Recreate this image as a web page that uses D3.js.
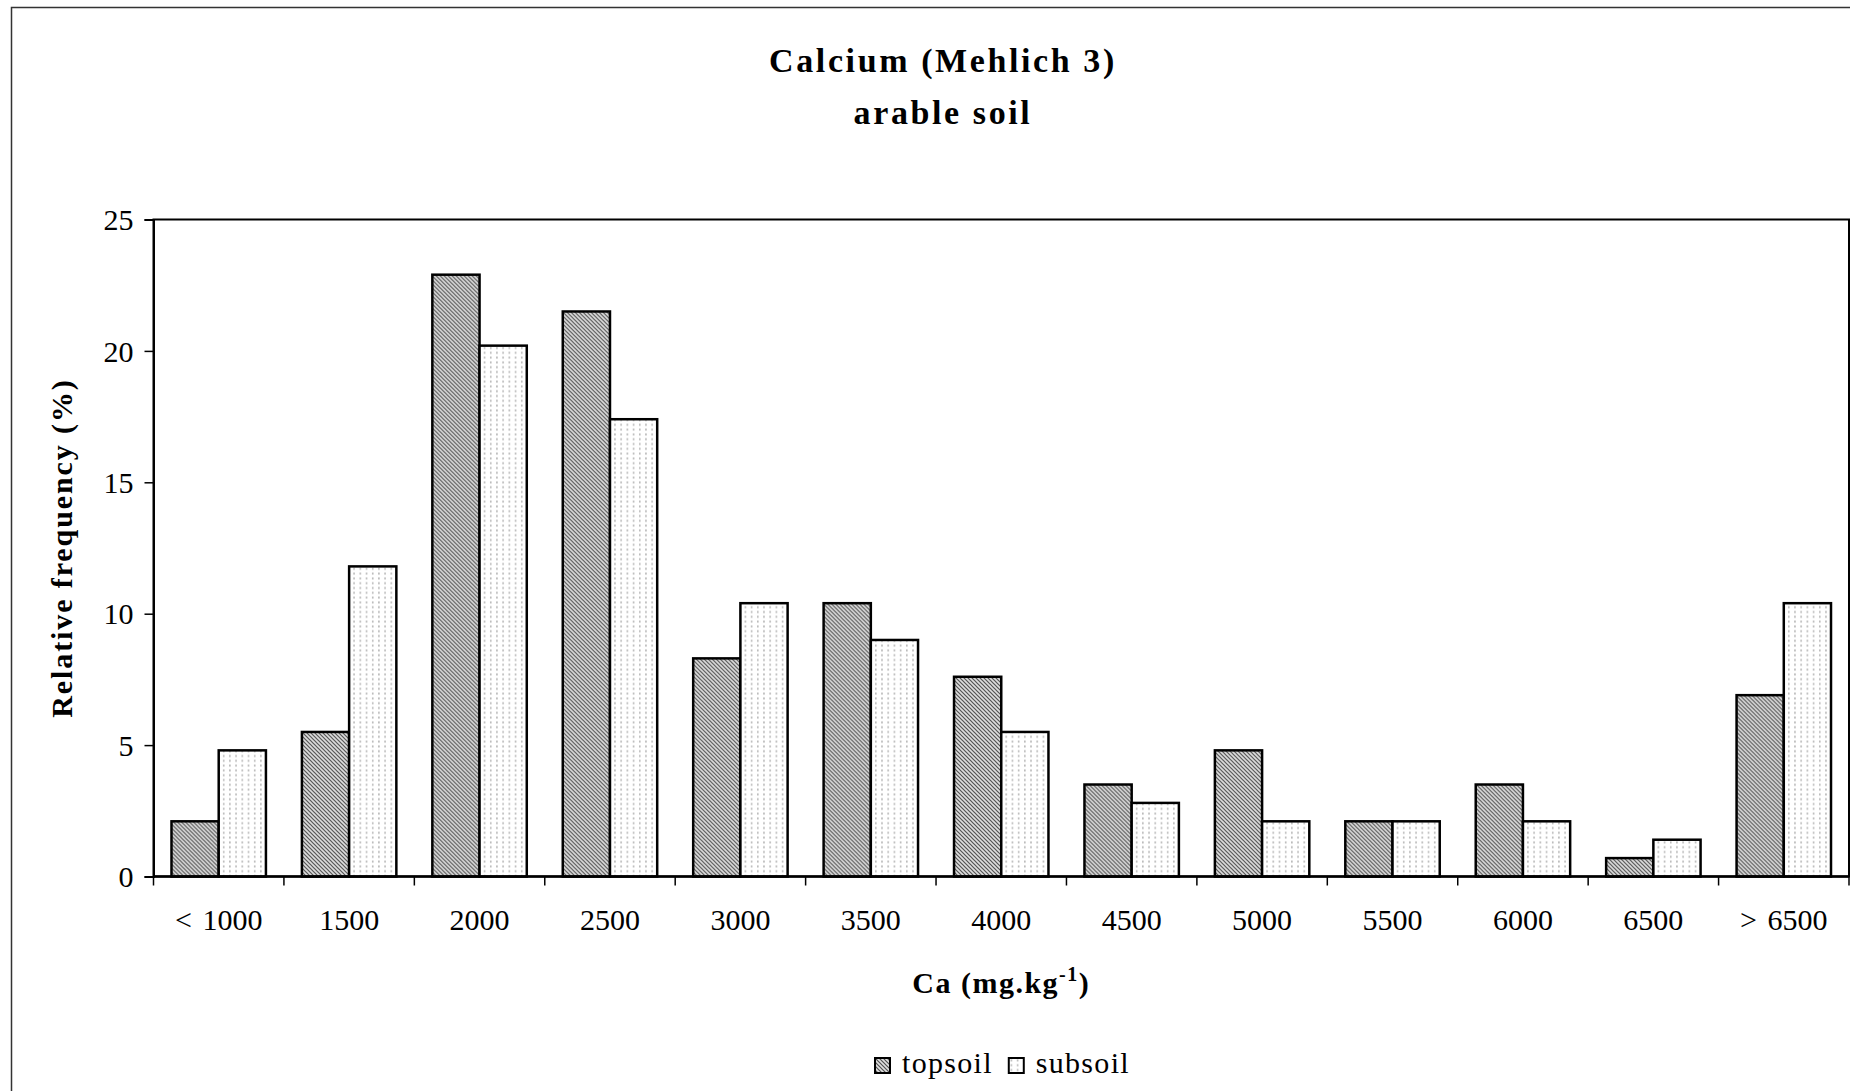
<!DOCTYPE html>
<html>
<head>
<meta charset="utf-8">
<script src="https://cdn.jsdelivr.net/npm/d3@7/dist/d3.min.js"></script>
<style>
  html, body { margin: 0; padding: 0; background: #fff; }
  svg { display: block; }
  text { font-family: "Liberation Serif", "Times New Roman", serif; fill: #000; }
</style>
</head>
<body>
<svg id="chart" width="1850" height="1091"></svg>
<script>
// Ca classes (mg/kg) and relative frequency (%) per soil layer
const categories = ["< 1000", "1500", "2000", "2500", "3000", "3500", "4000",
                    "4500", "5000", "5500", "6000", "6500", "> 6500"];
const topsoil = [2.1, 5.5, 22.9, 21.5, 8.3, 10.4, 7.6, 3.5, 4.8, 2.1, 3.5, 0.7, 6.9];
const subsoil = [4.8, 11.8, 20.2, 17.4, 10.4, 9.0, 5.5, 2.8, 2.1, 2.1, 2.1, 1.4, 10.4];
const seriesNames = ["topsoil", "subsoil"];
const yTicks = [0, 5, 10, 15, 20, 25];

const svg = d3.select("#chart");
const W = 1850, H = 1091;
const plot = { left: 153.5, right: 1849, top: 219.5, bottom: 876.5 };

// fill patterns
const defs = svg.append("defs");
const hatch = defs.append("pattern")
  .attr("id", "hatch").attr("patternUnits", "userSpaceOnUse")
  .attr("width", 4).attr("height", 4);
hatch.append("rect").attr("width", 4).attr("height", 4).attr("fill", "#e0e0e0");
hatch.append("path")
  .attr("d", "M-1,-1 L5,5 M-1,3 L1,5 M3,-1 L5,1")
  .attr("stroke", "#505050").attr("stroke-width", 1.2);

const dots = defs.append("pattern")
  .attr("id", "dots").attr("patternUnits", "userSpaceOnUse")
  .attr("width", 6.2).attr("height", 4.8);
dots.append("rect").attr("width", 6.2).attr("height", 4.8).attr("fill", "#fff");
dots.append("rect").attr("x", 2).attr("y", 1.4).attr("width", 1.2).attr("height", 2)
  .attr("fill", "#a0a0a0");

const fills = { topsoil: "url(#hatch)", subsoil: "url(#dots)" };

// outer chart frame
svg.append("path")
  .attr("d", `M11.5,${H} L11.5,7.5 L${W},7.5`)
  .attr("fill", "none").attr("stroke", "#333").attr("stroke-width", 1.5);

// scales
const x0 = d3.scaleBand().domain(categories)
  .range([plot.left, plot.right]).paddingInner(0.276).paddingOuter(0.138);
const x1 = d3.scaleBand().domain(seriesNames).range([0, x0.bandwidth()]).padding(0);
const y = d3.scaleLinear().domain([0, 25]).range([plot.bottom, plot.top]);

// plot area frame
svg.append("rect")
  .attr("x", plot.left).attr("y", plot.top)
  .attr("width", plot.right - plot.left).attr("height", plot.bottom - plot.top)
  .attr("fill", "#fff").attr("stroke", "#000").attr("stroke-width", 2);

// bars
const rows = categories.map((c, i) => ({ cat: c, values: [
  { key: "topsoil", v: topsoil[i] }, { key: "subsoil", v: subsoil[i] } ] }));

svg.append("g").selectAll("g").data(rows).join("g")
  .attr("transform", d => `translate(${x0(d.cat)},0)`)
  .selectAll("rect").data(d => d.values).join("rect")
    .attr("x", d => x1(d.key))
    .attr("y", d => y(d.v))
    .attr("width", x1.bandwidth())
    .attr("height", d => y(0) - y(d.v))
    .attr("fill", d => fills[d.key])
    .attr("stroke", "#000").attr("stroke-width", 2.5);

// y axis
const yAxis = svg.append("g").attr("transform", `translate(${plot.left},0)`)
  .call(d3.axisLeft(y).tickValues(yTicks).tickSize(9).tickPadding(11));
yAxis.select(".domain").attr("stroke", "#000").attr("stroke-width", 2);
yAxis.selectAll(".tick line").attr("stroke", "#000").attr("stroke-width", 1.5);
yAxis.selectAll(".tick text")
  .style("font-family", "Liberation Serif").style("font-size", "30px").attr("dy", "0.34em");

// x axis: ticks at class boundaries
const xAxisG = svg.append("g").attr("transform", `translate(0,${plot.bottom})`);
const step = x0.step();
const boundaries = categories.map(c => x0(c) - x0.paddingInner() * step / 2)
  .concat([plot.right]);
xAxisG.append("line").attr("x1", plot.left).attr("x2", plot.right)
  .attr("stroke", "#000").attr("stroke-width", 2.5);
xAxisG.selectAll("line.tk").data(boundaries).join("line").attr("class", "tk")
  .attr("x1", d => d).attr("x2", d => d).attr("y1", 0).attr("y2", 9)
  .attr("stroke", "#000").attr("stroke-width", 1.5);
xAxisG.selectAll("text").data(categories).join("text")
  .attr("x", d => x0(d) + x0.bandwidth() / 2)
  .attr("y", 53)
  .attr("text-anchor", "middle")
  .style("font-size", "30px")
  .style("word-spacing", "3px")
  .text(d => d);

// titles
const title = svg.append("text").attr("text-anchor", "middle")
  .style("font-size", "34px").style("font-weight", "bold").style("letter-spacing", "2.6px");
title.append("tspan").attr("x", 943).attr("y", 72).text("Calcium (Mehlich 3)");
title.append("tspan").attr("x", 943).attr("y", 124).text("arable soil");

// x axis title with superscript
const xt = svg.append("text").attr("x", (plot.left + plot.right) / 2).attr("y", 993)
  .attr("text-anchor", "middle")
  .style("font-size", "30px").style("font-weight", "bold").style("letter-spacing", "1.5px");
xt.append("tspan").text("Ca (mg.kg");
xt.append("tspan").attr("dy", -12).style("font-size", "20px").text("-1");
xt.append("tspan").attr("dy", 12).text(")");

// y axis title
svg.append("text")
  .attr("transform", `translate(72,${(plot.top + plot.bottom) / 2}) rotate(-90)`)
  .attr("text-anchor", "middle")
  .style("font-size", "30px").style("font-weight", "bold").style("letter-spacing", "1.9px")
  .text("Relative frequency (%)");

// legend
const legendLabels = { topsoil: "topsoil", subsoil: "subsoil" };
const legend = svg.append("g").attr("transform", "translate(875,1058)");
let lx = 0;
seriesNames.forEach(k => {
  const g = legend.append("g").attr("transform", `translate(${lx},0)`);
  g.append("rect").attr("width", 15).attr("height", 15)
    .attr("fill", fills[k]).attr("stroke", "#000").attr("stroke-width", 2);
  const t = g.append("text").attr("x", 27).attr("y", 15)
    .style("font-size", "30px").style("letter-spacing", "1.3px")
    .text(legendLabels[k]);
  lx += 27 + t.node().getComputedTextLength() + 16;
});
</script>
</body>
</html>
